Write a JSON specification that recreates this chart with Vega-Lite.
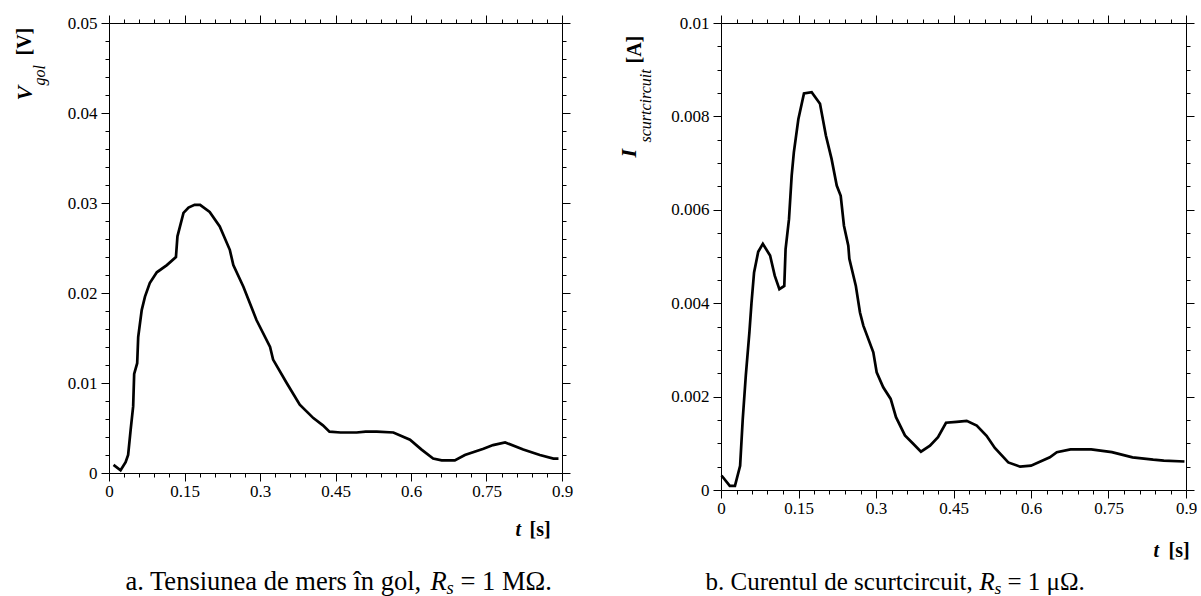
{
  "$schema": "https://vega.github.io/schema/vega-lite/v6.json",
  "padding": {"left": 13, "top": 14, "right": 0, "bottom": 0},
  "background": "white",
  "config": {
    "view": {"stroke": null},
    "axis": {
      "grid": false, "domainColor": "#000", "domainWidth": 1, "tickColor": "#000", "tickWidth": 1,
      "labelFont": "Liberation Serif", "labelFontSize": 17, "labelColor": "#000",
      "titleFont": "Liberation Serif", "titleColor": "#000", "titleLimit": 2000,
      "titleAlign": "left", "titleBaseline": "alphabetic", "titleFontWeight": "normal"
    }
  },
  "datasets": {
    "a": [
      {"t": 0.009, "v": 0.0009}, {"t": 0.023, "v": 0.0003}, {"t": 0.033, "v": 0.0012}, {"t": 0.038, "v": 0.002},
      {"t": 0.043, "v": 0.0048}, {"t": 0.048, "v": 0.0074}, {"t": 0.050, "v": 0.011}, {"t": 0.056, "v": 0.0122},
      {"t": 0.058, "v": 0.0151}, {"t": 0.065, "v": 0.0181}, {"t": 0.0715, "v": 0.0196}, {"t": 0.081, "v": 0.0211},
      {"t": 0.095, "v": 0.0223}, {"t": 0.115, "v": 0.0231}, {"t": 0.133, "v": 0.024}, {"t": 0.136, "v": 0.0263},
      {"t": 0.148, "v": 0.0289}, {"t": 0.158, "v": 0.0295}, {"t": 0.17, "v": 0.0298}, {"t": 0.181, "v": 0.0298},
      {"t": 0.2, "v": 0.029}, {"t": 0.22, "v": 0.0274}, {"t": 0.24, "v": 0.0248}, {"t": 0.247, "v": 0.0231},
      {"t": 0.267, "v": 0.0207}, {"t": 0.293, "v": 0.017}, {"t": 0.32, "v": 0.014}, {"t": 0.326, "v": 0.0126},
      {"t": 0.353, "v": 0.01}, {"t": 0.379, "v": 0.0076}, {"t": 0.406, "v": 0.0061}, {"t": 0.425, "v": 0.0053},
      {"t": 0.438, "v": 0.0046}, {"t": 0.46, "v": 0.0045}, {"t": 0.492, "v": 0.0045}, {"t": 0.51, "v": 0.0046},
      {"t": 0.532, "v": 0.0046}, {"t": 0.565, "v": 0.0045}, {"t": 0.598, "v": 0.0037}, {"t": 0.621, "v": 0.0026},
      {"t": 0.644, "v": 0.0016}, {"t": 0.661, "v": 0.0014}, {"t": 0.687, "v": 0.0014}, {"t": 0.707, "v": 0.002},
      {"t": 0.744, "v": 0.0027}, {"t": 0.763, "v": 0.0031}, {"t": 0.787, "v": 0.0034}, {"t": 0.823, "v": 0.0026},
      {"t": 0.856, "v": 0.002}, {"t": 0.883, "v": 0.0016}, {"t": 0.893, "v": 0.0016}
    ],
    "b": [
      {"t": 0.001, "i": 0.00031}, {"t": 0.017, "i": 0.00009}, {"t": 0.027, "i": 0.00009}, {"t": 0.037, "i": 0.00052},
      {"t": 0.042, "i": 0.0015}, {"t": 0.048, "i": 0.00245}, {"t": 0.055, "i": 0.00338}, {"t": 0.059, "i": 0.004},
      {"t": 0.064, "i": 0.00466}, {"t": 0.072, "i": 0.0051}, {"t": 0.081, "i": 0.00527}, {"t": 0.095, "i": 0.00502},
      {"t": 0.104, "i": 0.00459}, {"t": 0.113, "i": 0.0043}, {"t": 0.1225, "i": 0.00437}, {"t": 0.125, "i": 0.00516},
      {"t": 0.1316, "i": 0.0058}, {"t": 0.1368, "i": 0.00673}, {"t": 0.141, "i": 0.00723}, {"t": 0.1497, "i": 0.00794},
      {"t": 0.1606, "i": 0.00849}, {"t": 0.1755, "i": 0.00852}, {"t": 0.1916, "i": 0.00827}, {"t": 0.203, "i": 0.00759},
      {"t": 0.214, "i": 0.00709}, {"t": 0.224, "i": 0.00652}, {"t": 0.2317, "i": 0.0063}, {"t": 0.238, "i": 0.00566},
      {"t": 0.2464, "i": 0.00523}, {"t": 0.2484, "i": 0.00495}, {"t": 0.261, "i": 0.00437}, {"t": 0.269, "i": 0.0038},
      {"t": 0.2755, "i": 0.00352}, {"t": 0.2948, "i": 0.00295}, {"t": 0.3013, "i": 0.00252}, {"t": 0.314, "i": 0.0022},
      {"t": 0.3284, "i": 0.00195}, {"t": 0.3387, "i": 0.00156}, {"t": 0.356, "i": 0.00117}, {"t": 0.372, "i": 0.00099},
      {"t": 0.387, "i": 0.00082}, {"t": 0.4045, "i": 0.00095}, {"t": 0.42, "i": 0.00113}, {"t": 0.4355, "i": 0.00144},
      {"t": 0.456, "i": 0.00146}, {"t": 0.4755, "i": 0.00148}, {"t": 0.495, "i": 0.00138}, {"t": 0.514, "i": 0.00116},
      {"t": 0.53, "i": 0.0009}, {"t": 0.556, "i": 0.00059}, {"t": 0.579, "i": 0.0005}, {"t": 0.6, "i": 0.00052},
      {"t": 0.6365, "i": 0.0007}, {"t": 0.65, "i": 0.00081}, {"t": 0.6765, "i": 0.00087}, {"t": 0.7165, "i": 0.00087},
      {"t": 0.7565, "i": 0.00081}, {"t": 0.7965, "i": 0.0007}, {"t": 0.8365, "i": 0.00065}, {"t": 0.857, "i": 0.00063},
      {"t": 0.897, "i": 0.00061}
    ]
  },
  "hconcat": [
    {
      "width": 453, "height": 450,
      "data": {"name": "a"},
      "resolve": {"axis": {"x": "independent", "y": "independent"}},
      "layer": [
        {
          "mark": {"type": "line", "color": "#000", "strokeWidth": 2.7, "interpolate": "linear"},
          "encoding": {
            "x": {"field": "t", "type": "quantitative", "scale": {"domain": [0, 0.9], "nice": false},
              "axis": {"orient": "bottom", "values": [0, 0.15, 0.3, 0.45, 0.6, 0.75, 0.9], "labelExpr": "'' + datum.value",
                "tickSize": 8, "labelPadding": 2, "labelFlush": false, "labelOverlap": false,
                "title": "t", "titleFontSize": 20, "titleFontStyle": "italic", "titleFontWeight": "bold", "titleX": 406, "titleY": 62, "titleAngle": 0}},
            "y": {"field": "v", "type": "quantitative", "scale": {"domain": [0, 0.05], "nice": false},
              "axis": {"orient": "left", "values": [0, 0.01, 0.02, 0.03, 0.04, 0.05], "labelExpr": "'' + datum.value",
                "tickSize": 8, "labelPadding": 4, "labelFlush": false, "labelOverlap": false,
                "title": "V", "titleFontSize": 22, "titleFontStyle": "italic", "titleFontWeight": "bold", "titleX": -78, "titleY": 77, "titleAngle": -90}}
          }
        },
        {
          "mark": {"type": "line", "opacity": 0},
          "encoding": {
            "x": {"field": "t", "type": "quantitative", "scale": {"domain": [0, 0.9], "nice": false},
              "axis": {"orient": "bottom", "values": [0.03,0.06,0.09,0.12,0.18,0.21,0.24,0.27,0.33,0.36,0.39,0.42,0.48,0.51,0.54,0.57,0.63,0.66,0.69,0.72,0.78,0.81,0.84,0.87],
                "tickSize": 4, "labels": false, "domain": false,
                "title": "[s]", "titleFontSize": 20, "titleFontWeight": "bold", "titleX": 420, "titleY": 62, "titleAngle": 0}},
            "y": {"field": "v", "type": "quantitative", "scale": {"domain": [0, 0.05], "nice": false},
              "axis": {"orient": "left", "values": [0.002,0.004,0.006,0.008,0.012,0.014,0.016,0.018,0.022,0.024,0.026,0.028,0.032,0.034,0.036,0.038,0.042,0.044,0.046,0.048],
                "tickSize": 4, "labels": false, "domain": false,
                "title": "gol", "titleFontSize": 16, "titleFontStyle": "italic", "titleX": -65, "titleY": 62, "titleAngle": -90}}
          }
        },
        {
          "mark": {"type": "line", "opacity": 0},
          "encoding": {
            "x": {"field": "t", "type": "quantitative", "scale": {"domain": [0, 0.9], "nice": false},
              "axis": {"orient": "top", "values": [0, 0.15, 0.3, 0.45, 0.6, 0.75, 0.9], "tickSize": 8, "labels": false,
                "title": "a. Tensiunea de mers în gol,", "titleFontSize": 26.5, "titleX": 16, "titleY": 566, "titleAngle": 0}},
            "y": {"field": "v", "type": "quantitative", "scale": {"domain": [0, 0.05], "nice": false},
              "axis": {"orient": "right", "values": [0, 0.01, 0.02, 0.03, 0.04, 0.05], "tickSize": 8, "labels": false,
                "title": "[V]", "titleFontSize": 20, "titleFontWeight": "bold", "titleX": -532, "titleY": 32, "titleAngle": -90}}
          }
        },
        {
          "mark": {"type": "line", "opacity": 0},
          "encoding": {
            "x": {"field": "t", "type": "quantitative", "scale": {"domain": [0, 0.9], "nice": false},
              "axis": {"orient": "top", "values": [0.03,0.06,0.09,0.12,0.18,0.21,0.24,0.27,0.33,0.36,0.39,0.42,0.48,0.51,0.54,0.57,0.63,0.66,0.69,0.72,0.78,0.81,0.84,0.87],
                "tickSize": 4, "labels": false, "domain": false,
                "title": "R", "titleFontSize": 26.5, "titleFontStyle": "italic", "titleX": 321, "titleY": 566, "titleAngle": 0}},
            "y": {"field": "v", "type": "quantitative", "scale": {"domain": [0, 0.05], "nice": false},
              "axis": {"orient": "right", "values": [0.002,0.004,0.006,0.008,0.012,0.014,0.016,0.018,0.022,0.024,0.026,0.028,0.032,0.034,0.036,0.038,0.042,0.044,0.046,0.048],
                "tickSize": 4, "labels": false, "domain": false,
                "title": "= 1 MΩ.", "titleFontSize": 26.5, "titleX": -102, "titleY": 566, "titleAngle": 0}}
          }
        },
        {
          "mark": {"type": "line", "opacity": 0},
          "encoding": {
            "x": {"field": "t", "type": "quantitative", "scale": {"domain": [0, 0.9], "nice": false},
              "axis": {"orient": "bottom", "ticks": false, "labels": false, "domain": false,
                "title": "s", "titleFontSize": 18.5, "titleFontStyle": "italic", "titleX": 337, "titleY": 120, "titleAngle": 0}},
            "y": {"field": "v", "type": "quantitative", "scale": {"domain": [0, 0.05], "nice": false}, "axis": null}
          }
        }
      ]
    },
    {
      "width": 465, "height": 467,
      "data": {"name": "b"},
      "resolve": {"axis": {"x": "independent", "y": "independent"}},
      "layer": [
        {
          "mark": {"type": "line", "color": "#000", "strokeWidth": 2.7, "interpolate": "linear"},
          "encoding": {
            "x": {"field": "t", "type": "quantitative", "scale": {"domain": [0, 0.9], "nice": false},
              "axis": {"orient": "bottom", "values": [0, 0.15, 0.3, 0.45, 0.6, 0.75, 0.9], "labelExpr": "'' + datum.value",
                "tickSize": 8, "labelPadding": 2, "labelFlush": false, "labelOverlap": false,
                "title": "t", "titleFontSize": 20, "titleFontStyle": "italic", "titleFontWeight": "bold", "titleX": 432, "titleY": 66, "titleAngle": 0}},
            "y": {"field": "i", "type": "quantitative", "scale": {"domain": [0, 0.01], "nice": false},
              "axis": {"orient": "left", "values": [0, 0.002, 0.004, 0.006, 0.008, 0.01], "labelExpr": "'' + datum.value",
                "tickSize": 8, "labelPadding": 4, "labelFlush": false, "labelOverlap": false,
                "title": "I", "titleFontSize": 22, "titleFontStyle": "italic", "titleFontWeight": "bold", "titleX": -86, "titleY": 134, "titleAngle": -90}}
          }
        },
        {
          "mark": {"type": "line", "opacity": 0},
          "encoding": {
            "x": {"field": "t", "type": "quantitative", "scale": {"domain": [0, 0.9], "nice": false},
              "axis": {"orient": "bottom", "values": [0.03,0.06,0.09,0.12,0.18,0.21,0.24,0.27,0.33,0.36,0.39,0.42,0.48,0.51,0.54,0.57,0.63,0.66,0.69,0.72,0.78,0.81,0.84,0.87],
                "tickSize": 4, "labels": false, "domain": false,
                "title": "[s]", "titleFontSize": 20, "titleFontWeight": "bold", "titleX": 447, "titleY": 66, "titleAngle": 0}},
            "y": {"field": "i", "type": "quantitative", "scale": {"domain": [0, 0.01], "nice": false},
              "axis": {"orient": "left", "values": [0.0005,0.001,0.0015,0.0025,0.003,0.0035,0.0045,0.005,0.0055,0.0065,0.007,0.0075,0.0085,0.009,0.0095],
                "tickSize": 4, "labels": false, "domain": false,
                "title": "scurtcircuit", "titleFontSize": 16, "titleFontStyle": "italic", "titleX": -71, "titleY": 119, "titleAngle": -90}}
          }
        },
        {
          "mark": {"type": "line", "opacity": 0},
          "encoding": {
            "x": {"field": "t", "type": "quantitative", "scale": {"domain": [0, 0.9], "nice": false},
              "axis": {"orient": "top", "values": [0, 0.15, 0.3, 0.45, 0.6, 0.75, 0.9], "tickSize": 8, "labels": false,
                "title": "b. Curentul de scurtcircuit,", "titleFontSize": 25, "titleX": -16, "titleY": 566, "titleAngle": 0}},
            "y": {"field": "i", "type": "quantitative", "scale": {"domain": [0, 0.01], "nice": false},
              "axis": {"orient": "right", "values": [0, 0.002, 0.004, 0.006, 0.008, 0.01], "tickSize": 8, "labels": false,
                "title": "[A]", "titleFontSize": 20, "titleFontWeight": "bold", "titleX": -546, "titleY": 40, "titleAngle": -90}}
          }
        },
        {
          "mark": {"type": "line", "opacity": 0},
          "encoding": {
            "x": {"field": "t", "type": "quantitative", "scale": {"domain": [0, 0.9], "nice": false},
              "axis": {"orient": "top", "values": [0.03,0.06,0.09,0.12,0.18,0.21,0.24,0.27,0.33,0.36,0.39,0.42,0.48,0.51,0.54,0.57,0.63,0.66,0.69,0.72,0.78,0.81,0.84,0.87],
                "tickSize": 4, "labels": false, "domain": false,
                "title": "R", "titleFontSize": 25, "titleFontStyle": "italic", "titleX": 258, "titleY": 566, "titleAngle": 0}},
            "y": {"field": "i", "type": "quantitative", "scale": {"domain": [0, 0.01], "nice": false},
              "axis": {"orient": "right", "values": [0.0005,0.001,0.0015,0.0025,0.003,0.0035,0.0045,0.005,0.0055,0.0065,0.007,0.0075,0.0085,0.009,0.0095],
                "tickSize": 4, "labels": false, "domain": false,
                "title": "= 1 μΩ.", "titleFontSize": 25, "titleX": -179, "titleY": 566, "titleAngle": 0}}
          }
        },
        {
          "mark": {"type": "line", "opacity": 0},
          "encoding": {
            "x": {"field": "t", "type": "quantitative", "scale": {"domain": [0, 0.9], "nice": false},
              "axis": {"orient": "bottom", "ticks": false, "labels": false, "domain": false,
                "title": "s", "titleFontSize": 17.5, "titleFontStyle": "italic", "titleX": 273, "titleY": 103, "titleAngle": 0}},
            "y": {"field": "i", "type": "quantitative", "scale": {"domain": [0, 0.01], "nice": false}, "axis": null}
          }
        }
      ]
    }
  ],
  "spacing": 159,
  "bounds": "flush"
}
